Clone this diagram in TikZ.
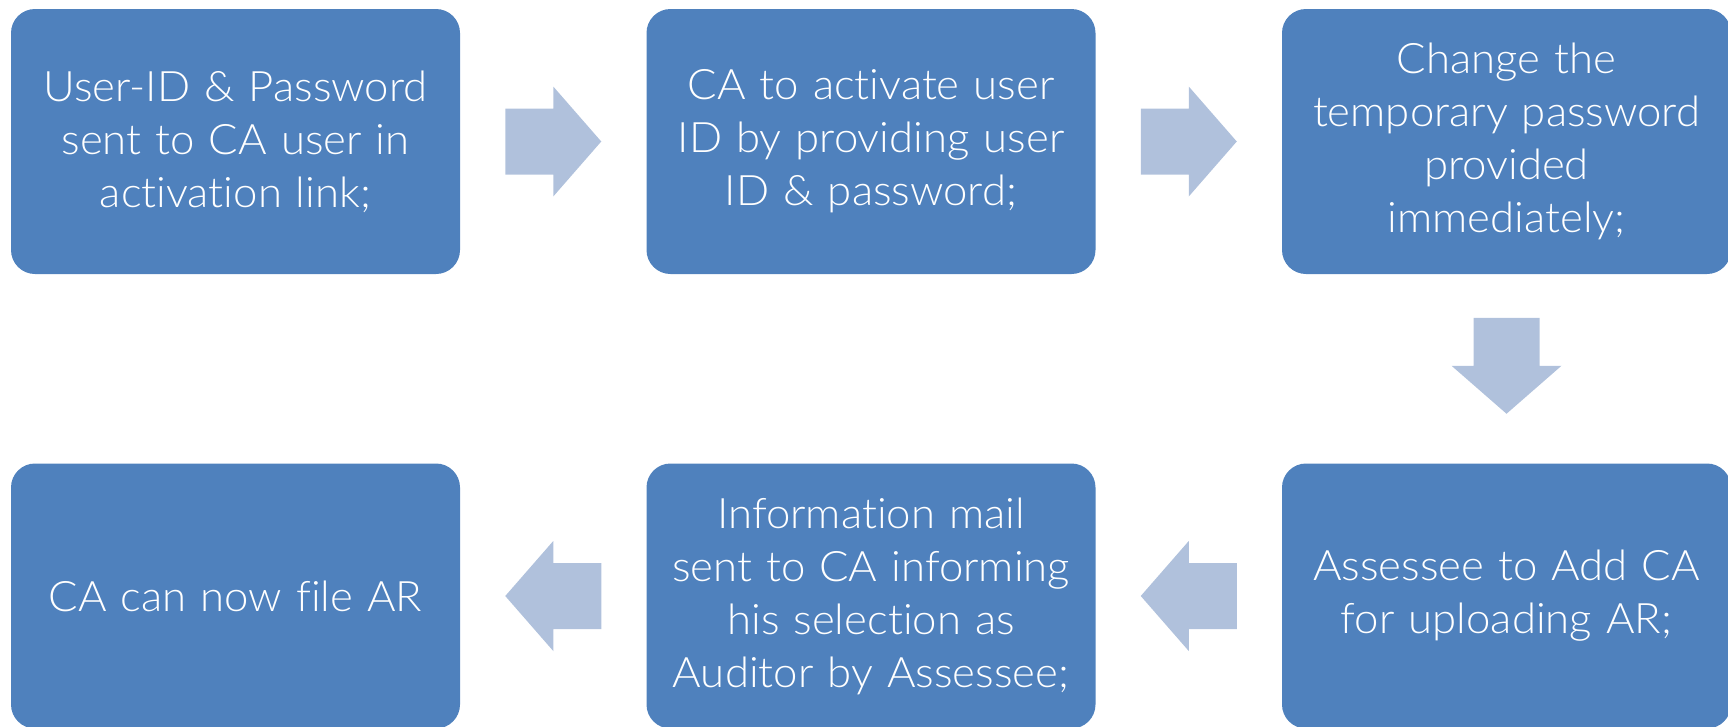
\documentclass[tikz,border=0pt]{standalone}
\usepackage{fontspec}
\setmainfont{Lato}[UprightFont=* Light, FakeStretch=1.04, Ligatures=NoCommon]
\usetikzlibrary{calc}
\definecolor{boxblue}{HTML}{4F81BD}
\definecolor{arrowblue}{HTML}{B0C1DC}
\tikzset{
  stepbox/.style={fill=boxblue, draw=none, rounded corners=24pt,
    minimum width=449pt, minimum height=265pt, text width=440pt,
    align=center, text=white, inner sep=0pt,
    font=\fontsize{42pt}{53pt}\selectfont},
  % block arrow pointing right, centred on the origin
  blockarrow/.pic={
    \fill[arrowblue] (-48,-33) -- (0,-33) -- (0,-55) -- (48,0)
      -- (0,55) -- (0,33) -- (-48,33) -- cycle;
  }
}
\begin{document}
\begin{tikzpicture}[x=1pt,y=1pt]
  \useasboundingbox[clip] (0,0) rectangle (1728,-726);
  % top row
  \node[stepbox] (s1) at (235.5,-141.5) {User-ID \& Password\\sent to CA user in\\activation link;};
  \node[stepbox] (s2) at (871,-141.5) {CA to activate user\\ID by providing user\\ID \& password;};
  \node[stepbox] (s3) at (1506.5,-141.5) {Change the\\temporary password\\provided\\immediately;};
  % bottom row
  \node[stepbox] (s4) at (235.5,-596) {CA can now file AR};
  \node[stepbox] (s5) at (871,-596) {Information mail\\sent to CA informing\\his selection as\\Auditor by Assessee;};
  \node[stepbox] (s6) at (1506.5,-596) {Assessee to Add CA\\for uploading AR;};
  % block arrows between the steps
  \coordinate (a12) at ($(s1.east)!0.5!(s2.west)$);
  \coordinate (a23) at ($(s2.east)!0.5!(s3.west)$);
  \coordinate (a36) at ($(s3.south)!0.5!(s6.north)+(0,3)$);
  \coordinate (a65) at ($(s6.west)!0.5!(s5.east)$);
  \coordinate (a54) at ($(s5.west)!0.5!(s4.east)$);
  \pic at (a12) {blockarrow};
  \pic at (a23) {blockarrow};
  \pic[rotate=-90] at (a36) {blockarrow};
  \pic[rotate=180] at (a65) {blockarrow};
  \pic[rotate=180] at (a54) {blockarrow};
\end{tikzpicture}
\end{document}
